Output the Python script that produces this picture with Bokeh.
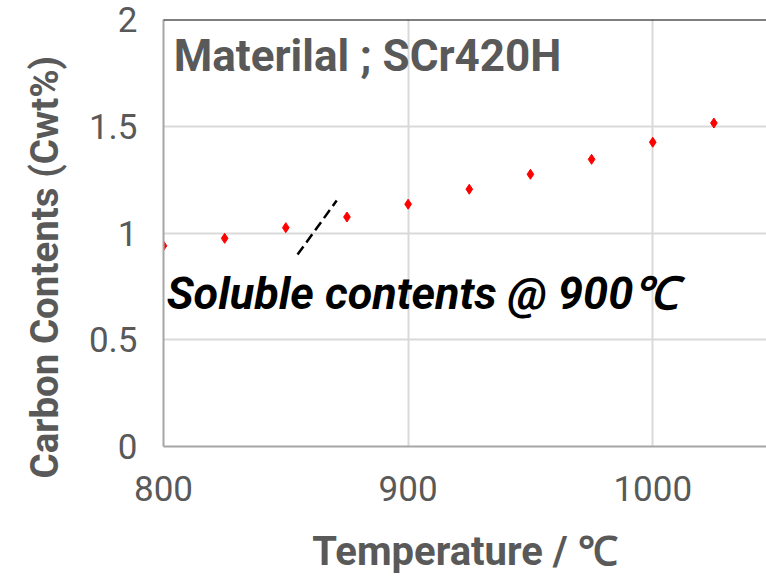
import math
from bokeh.plotting import figure
from bokeh.models import Range1d, FixedTicker, Label, Span, ColumnDataSource, Title
from bokeh.embed import file_html
from bokeh.resources import INLINE

# ---- data ----
temperature = [800, 825, 850, 875, 900, 925, 950, 975, 1000, 1025]
carbon = [0.94, 0.975, 1.025, 1.075, 1.135, 1.205, 1.275, 1.345, 1.425, 1.515]

x_ticks = [800, 900, 1000]
y_ticks = [0, 0.5, 1, 1.5, 2]
y_tick_labels = ["0", "0.5", "1", "1.5", "2"]

guide_x = [854.8, 870.8]
guide_y = [0.899, 1.152]

title_text = "Materilal ; SCr420H"
note_text = "Soluble contents @ 900\u2103"
x_label = "Temperature / \u2103"
y_label = "Carbon Contents (Cwt%)"

GRAY = "#595959"
FONT = "Roboto"

p = figure(width=766, height=579, output_backend="svg", toolbar_location=None,
           x_range=Range1d(800, 1046.5), y_range=Range1d(0, 2),
           min_border_left=163, min_border_right=0, min_border_top=19,
           min_border_bottom=133)
p.outline_line_color = None
p.background_fill_color = "white"
p.border_fill_color = "white"

# grids
p.xgrid.ticker = FixedTicker(ticks=x_ticks)
p.ygrid.ticker = FixedTicker(ticks=y_ticks)
for g in (p.xgrid, p.ygrid):
    g.grid_line_color = "#d9d9d9"
    g.grid_line_width = 2

# axes
p.xaxis.ticker = FixedTicker(ticks=x_ticks)
p.yaxis.ticker = FixedTicker(ticks=y_ticks)
p.yaxis.major_label_overrides = {t: s for t, s in zip(y_ticks, y_tick_labels)}
for ax in (p.xaxis, p.yaxis):
    ax.axis_line_color = "#a6a6a6"
    ax.axis_line_width = 2
    ax.major_tick_line_color = None
    ax.minor_tick_line_color = None
    ax.major_tick_out = 0
    ax.major_tick_in = 0
    ax.major_label_text_font = FONT
    ax.major_label_text_font_size = "35px"
    ax.major_label_text_color = GRAY

p.yaxis.major_label_standoff = 26
p.xaxis.major_label_standoff = 29
p.xaxis.axis_label = x_label
p.xaxis.axis_label_text_font = FONT
p.xaxis.axis_label_text_font_size = "40px"
p.xaxis.axis_label_text_font_style = "bold"
p.xaxis.axis_label_text_color = GRAY
p.xaxis.axis_label_standoff = 24

# y axis title (placed in the left panel, outside the tick labels)
p.add_layout(Title(text=y_label, align="left", offset=-32, standoff=37,
                   text_font=FONT, text_font_size="38.5px", text_font_style="bold",
                   text_color=GRAY), "left")

# top border line (at y = 2)
p.add_layout(Span(location=2, dimension="width", line_color="black", line_width=2))

# data points
src = ColumnDataSource(dict(x=temperature, y=carbon))
p.scatter("x", "y", source=src, marker="diamond", size=10, color="red", line_color="red")

# dashed guide
p.line(guide_x, guide_y, line_color="black", line_width=2.5, line_dash="10 5")

# title inside plot
p.add_layout(Label(x=804.2, y=1.827, text=title_text, text_font=FONT,
                   text_font_size="44px", text_font_style="bold", text_color=GRAY,
                   text_align="left", text_baseline="alphabetic"))

# annotation text
p.add_layout(Label(x=801.3, y=0.716, text=note_text, text_font=FONT,
                   text_font_size="45px", text_font_style="bold italic", text_color="black",
                   text_align="left", text_baseline="alphabetic"))

open("out.html", "w").write(file_html(p, INLINE))
